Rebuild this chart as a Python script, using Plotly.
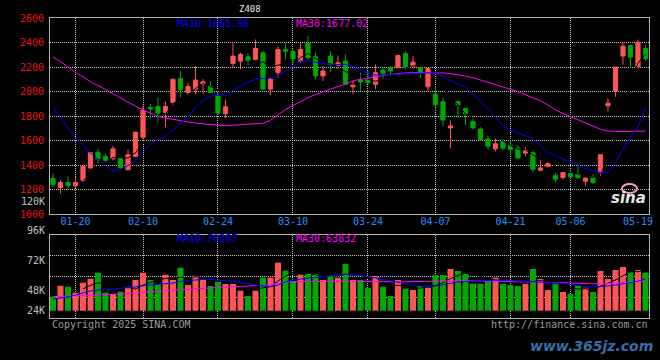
import plotly.graph_objects as go
import pandas as pd

# ---------------- data ----------------
MONTH_DAYS = {
    "2025-01": [15, 16, 17, 20, 21, 22, 23, 24, 27],
    "2025-02": [5, 6, 7, 10, 11, 12, 13, 14, 17, 18, 19, 20, 21, 24, 25, 26, 27, 28],
    "2025-03": [3, 4, 5, 6, 7, 10, 11, 12, 13, 14, 17, 18, 19, 20, 21, 24, 25, 26, 27, 28, 31],
    "2025-04": [1, 2, 3, 7, 8, 9, 10, 11, 14, 15, 16, 17, 18, 21, 22, 23, 24, 25, 28, 29, 30],
    "2025-05": [6, 7, 8, 9, 12, 13, 14, 15, 16, 19, 20],
}
DATES = [f"{m}-{d:02d}" for m, days in MONTH_DAYS.items() for d in days]

OPEN = [1289, 1216, 1257, 1230, 1276, 1376, 1505, 1470, 1451, 1460,
        1362, 1470, 1627, 1870, 1878, 1830, 1911, 2105, 1992, 2019,
        2059, 2040, 1964, 1818, 2229, 2248, 2283, 2262, 2316, 2019,
        2154, 2343, 2327, 2248, 2392, 2283, 2127, 2289, 2213, 2248,
        2038, 2094, 2100, 2059, 2175, 2194, 2194, 2310, 2202, 2194,
        2038, 1978, 1916, 1703, 1919, 1862, 1754, 1694, 1613, 1532,
        1590, 1559, 1538, 1497, 1500, 1357, 1389, 1316, 1297, 1330,
        1324, 1268, 1297, 1338, 1884, 2005, 2289, 2375, 2202, 2351]
HIGH = [1330, 1276, 1306, 1303, 1403, 1505, 1532, 1492, 1554, 1465,
        1527, 1670, 1884, 1897, 1951, 1916, 2100, 2167, 2073, 2208,
        2100, 2086, 1992, 1932, 2392, 2316, 2310, 2424, 2329, 2113,
        2370, 2397, 2338, 2397, 2451, 2316, 2208, 2329, 2294, 2302,
        2086, 2154, 2167, 2221, 2202, 2208, 2302, 2329, 2289, 2194,
        2194, 2046, 1951, 1762, 1919, 1870, 1803, 1708, 1640, 1613,
        1613, 1600, 1559, 1546, 1519, 1438, 1430, 1338, 1343, 1357,
        1411, 1303, 1324, 1484, 1943, 2200, 2402, 2383, 2424, 2383]
LOW = [1222, 1168, 1195, 1214, 1262, 1370, 1411, 1424, 1438, 1370,
       1357, 1465, 1614, 1776, 1749, 1708, 1884, 1951, 1970, 1978,
       1978, 1986, 1810, 1784, 2194, 2181, 2213, 2256, 2019, 1973,
       2113, 2262, 2221, 2235, 2262, 2100, 2086, 2159, 2181, 2059,
       1978, 2005, 2059, 2019, 2094, 2127, 2194, 2181, 2186, 2113,
       2005, 1857, 1716, 1538, 1784, 1727, 1689, 1600, 1527, 1511,
       1519, 1478, 1451, 1473, 1338, 1357, 1381, 1257, 1284, 1284,
       1289, 1230, 1243, 1311, 1835, 1957, 2221, 2194, 2189, 2248]
CLOSE = [1241, 1257, 1233, 1257, 1389, 1500, 1451, 1438, 1532, 1378,
         1484, 1668, 1843, 1857, 1824, 1878, 2100, 2013, 2040, 2094,
         2078, 1992, 1824, 1875, 2289, 2302, 2256, 2351, 2019, 2100,
         2343, 2329, 2267, 2343, 2275, 2127, 2167, 2221, 2235, 2059,
         2051, 2078, 2073, 2154, 2148, 2167, 2294, 2194, 2240, 2154,
         2189, 1892, 1767, 1719, 1892, 1816, 1703, 1608, 1554, 1573,
         1538, 1527, 1457, 1519, 1365, 1376, 1411, 1284, 1338, 1303,
         1297, 1294, 1257, 1484, 1905, 2200, 2370, 2281, 2402, 2267]
MA10 = [1870, 1785, 1700, 1620, 1560, 1500, 1450, 1395, 1350, 1365,
        1395, 1440, 1505, 1570, 1610, 1630, 1685, 1735, 1789, 1870,
        1930, 1965, 1968, 1972, 2010, 2046, 2075, 2100, 2108, 2112,
        2130, 2165, 2205, 2248, 2248, 2238, 2227, 2222, 2221, 2221,
        2205, 2175, 2150, 2133, 2135, 2140, 2142, 2144, 2146, 2148,
        2150, 2154, 2120, 2088, 2063, 2036, 1980, 1920, 1860, 1790,
        1720, 1685, 1660, 1637, 1614, 1555, 1500, 1475, 1450, 1425,
        1400, 1373, 1355, 1338, 1340, 1415, 1530, 1630, 1710, 1865.96]
MA30 = [2282, 2245, 2200, 2155, 2120, 2078, 2050, 2015, 1985, 1950,
        1911, 1880, 1850, 1822, 1797, 1783, 1773, 1762, 1749, 1742,
        1736, 1730, 1722, 1721, 1725, 1728, 1732, 1737, 1741, 1765,
        1810, 1852, 1885, 1920, 1950, 1975, 2000, 2020, 2040, 2060,
        2088, 2100, 2110, 2120, 2130, 2140, 2148, 2152, 2154, 2154,
        2154, 2154, 2152, 2146, 2138, 2125, 2113, 2095, 2072, 2055,
        2035, 2018, 1998, 1975, 1948, 1924, 1890, 1850, 1820, 1795,
        1768, 1745, 1720, 1692, 1677, 1673, 1673, 1674, 1677, 1677.02]
VOLUME = [37.3, 47.7, 46.7, 41.0, 50.5, 54.3, 60.0, 41.0, 39.8, 42.0,
          46.7, 53.1, 60.0, 53.1, 49.3, 58.1, 53.1, 64.7, 48.3, 57.1,
          53.7, 47.4, 51.5, 49.3, 49.3, 42.9, 37.9, 42.9, 55.3, 55.3,
          69.5, 61.9, 52.1, 58.1, 58.8, 58.8, 53.1, 57.8, 55.3, 68.5,
          53.1, 53.1, 45.8, 56.9, 46.7, 37.9, 53.1, 44.8, 43.6, 47.4,
          45.8, 57.8, 57.8, 63.5, 61.6, 58.8, 49.6, 49.6, 52.4, 55.3,
          49.6, 48.3, 47.4, 49.6, 63.5, 54.0, 43.6, 49.6, 41.7, 40.1,
          47.4, 45.8, 41.7, 61.6, 54.0, 62.5, 65.4, 60.6, 62.5, 60.0]
VOL_MA10 = [35.1, 36.0, 37.0, 38.9, 40.8, 42.7, 43.6, 43.9, 44.5, 45.2,
            45.5, 46.4, 47.7, 48.3, 48.6, 49.3, 50.2, 51.8, 52.4, 53.4,
            53.7, 53.7, 52.8, 52.4, 52.1, 51.2, 49.9, 48.3, 47.4, 46.7,
            48.3, 51.2, 53.1, 54.0, 55.0, 55.6, 55.9, 57.1, 57.8, 58.5,
            58.1, 57.3, 56.4, 55.0, 54.0, 52.6, 51.2, 49.8, 48.3, 47.4,
            46.7, 47.4, 48.8, 50.2, 51.2, 51.7, 52.1, 52.6, 52.9, 53.1,
            52.9, 52.6, 52.1, 51.7, 51.5, 51.2, 50.9, 50.5, 49.9, 48.8,
            47.7, 47.1, 46.7, 46.9, 47.4, 48.3, 49.3, 50.5, 52.1, 54.0]
VOL_MA30 = [37.3, 37.5, 37.7, 37.9, 38.1, 38.3, 38.6, 38.9, 39.3, 39.8,
            40.3, 40.7, 41.3, 41.8, 42.4, 42.9, 43.5, 44.0, 44.5, 44.9,
            45.3, 45.8, 46.3, 46.7, 46.8, 47.0, 47.2, 47.4, 47.6, 48.5,
            49.8, 51.0, 51.4, 51.6, 51.8, 52.0, 52.1, 52.0, 51.9, 51.8,
            51.7, 51.6, 51.5, 51.4, 51.3, 51.2, 51.2, 51.4, 51.6, 51.8,
            52.0, 52.2, 52.4, 52.4, 52.4, 52.4, 52.3, 52.2, 52.1, 52.0,
            51.9, 51.8, 51.7, 51.6, 51.5, 51.2, 51.0, 50.8, 50.5, 50.2,
            50.0, 49.7, 49.5, 49.3, 49.8, 50.3, 50.8, 51.2, 51.6, 52.1]

TICK_DATES = ["2025-01-20", "2025-02-10", "2025-02-24", "2025-03-10",
              "2025-03-24", "2025-04-07", "2025-04-21", "2025-05-06"]
TICK_LABELS = ["01-20", "02-10", "02-24", "03-10", "03-24", "04-07", "04-21", "05-06"]
LAST_DATE, LAST_LABEL = "2025-05-19", "05-19"
PRICE_TICKS = [1000, 1200, 1400, 1600, 1800, 2000, 2200, 2400, 2600]
VOL_LABELS = ["120K", "96K", "72K", "48K", "24K"]
MA_TEXT = ["MA10:1865.96", "MA30:1677.02"]
VOL_MA_TEXT = ["MA10:70367", "MA30:63832"]
TITLE = "Z408"

VOL_BASE, VOL_MIN, VOL_MAX = 24.0, 17.1, 96.0

# ---------------- derived ----------------
df = pd.DataFrame({"o": OPEN, "h": HIGH, "l": LOW, "c": CLOSE, "v": VOLUME}, index=DATES)
MA5 = df["c"].rolling(5).mean()
VOL_MA5 = df["v"].rolling(5).mean()

RED, GREEN = "#ff5555", "#00a800"
BLUE, MAGENTA = "#0000ff", "#ff00ff"
GRID, FRAME = "#c8c8c8", "#b4b4b4"
FONT = "DejaVu Sans Mono"

W, H = 660, 360
L, R, T, B = 50, 11, 18, 42
PW, PH = W - L - R, H - T - B


def px(x):
    return (x - L) / PW


def py(y):
    return (H - B - y) / PH


fig = go.Figure()
fig.add_trace(go.Candlestick(
    x=DATES, open=OPEN, high=HIGH, low=LOW, close=CLOSE,
    increasing=dict(line=dict(color=RED, width=1), fillcolor=RED),
    decreasing=dict(line=dict(color=GREEN, width=1), fillcolor=GREEN),
    whiskerwidth=0, xaxis="x", yaxis="y", hoverinfo="skip"))
fig.add_trace(go.Scatter(x=DATES, y=MA5, mode="lines", line=dict(color="#000000", width=1),
                         xaxis="x", yaxis="y"))
fig.add_trace(go.Scatter(x=DATES, y=MA30, mode="lines", line=dict(color=MAGENTA, width=1),
                         xaxis="x", yaxis="y"))
fig.add_trace(go.Scatter(x=DATES, y=MA10, mode="lines", line=dict(color=BLUE, width=1),
                         xaxis="x", yaxis="y"))

vol_colors = [RED if c >= o else GREEN for o, c in zip(OPEN, CLOSE)]
fig.add_trace(go.Bar(x=DATES, y=[v - VOL_BASE for v in VOLUME], base=VOL_BASE,
                     marker=dict(color=vol_colors, line=dict(width=0)), width=0.8,
                     xaxis="x2", yaxis="y2"))
fig.add_trace(go.Scatter(x=DATES, y=VOL_MA5, mode="lines", line=dict(color="#000000", width=1),
                         xaxis="x2", yaxis="y2"))
fig.add_trace(go.Scatter(x=DATES, y=VOL_MA30, mode="lines", line=dict(color=MAGENTA, width=1),
                         xaxis="x2", yaxis="y2"))
fig.add_trace(go.Scatter(x=DATES, y=VOL_MA10, mode="lines", line=dict(color=BLUE, width=1),
                         xaxis="x2", yaxis="y2"))

price_top, price_bot = 18, 214
vol_top, vol_bot = 234.7, 318

axis_common = dict(showgrid=True, gridcolor=GRID, griddash="1px,1px", gridwidth=1,
                   showline=True, linecolor=FRAME, linewidth=1, mirror=True,
                   zeroline=False, ticks="")

fig.update_layout(
    width=W, height=H, margin=dict(l=L, r=R, t=T, b=B),
    paper_bgcolor="#000000", plot_bgcolor="#000000", showlegend=False,
    boxgap=0.2, bargap=0.2, font=dict(family=FONT, size=10),
    xaxis=dict(type="category", domain=[0, 1], anchor="y", range=[-0.4, 79.47],
               tickvals=TICK_DATES, ticktext=TICK_LABELS,
               tickfont=dict(color="#1e90ff", family=FONT, size=10),
               rangeslider=dict(visible=False), ticklabelstandoff=-2, **axis_common),
    xaxis2=dict(type="category", matches="x", domain=[0, 1], anchor="y2",
                tickvals=TICK_DATES, showticklabels=False, **axis_common),
    yaxis=dict(domain=[py(price_bot), py(price_top)], range=[1000, 2600],
               tickvals=PRICE_TICKS, tickfont=dict(color="#ee1111", family=FONT, size=10),
               ticklabelstandoff=3, **axis_common),
    yaxis2=dict(domain=[0, py(vol_top)], range=[VOL_MIN, VOL_MAX],
                tickmode="linear", tick0=VOL_MIN, dtick=(VOL_MAX - VOL_MIN) / 4,
                showticklabels=False, **axis_common),
)

ann = []
ann.append(dict(x=LAST_DATE, xref="x", y=py(221.5), yref="paper", text=LAST_LABEL,
                showarrow=False, font=dict(color="#1e90ff", size=10, family=FONT),
                xanchor="center", yanchor="middle"))
for txt, yy in zip(VOL_LABELS, [201, 230.7, 260.5, 290.7, 310.5]):
    ann.append(dict(x=px(46.5), xref="paper", y=py(yy), yref="paper", text=txt,
                    showarrow=False, xanchor="right", yanchor="middle",
                    font=dict(color="#c0c0c0", size=10, family=FONT)))
for txt, xx, col in zip(MA_TEXT, [175, 294], [BLUE, MAGENTA]):
    ann.append(dict(x=px(xx), xref="paper", y=py(23.5), yref="paper", text=txt,
                    showarrow=False, xanchor="left", yanchor="middle",
                    font=dict(color=col, size=10, family=FONT)))
for txt, xx, col in zip(VOL_MA_TEXT, [175, 294], [BLUE, MAGENTA]):
    ann.append(dict(x=px(xx), xref="paper", y=py(238.5), yref="paper", text=txt,
                    showarrow=False, xanchor="left", yanchor="middle",
                    font=dict(color=col, size=10, family=FONT)))
ann.append(dict(x=px(250), xref="paper", y=py(9), yref="paper", text=TITLE,
                showarrow=False, xanchor="center", yanchor="middle",
                font=dict(color="#e8e8e8", size=9, family=FONT)))
ann.append(dict(x=px(50), xref="paper", y=py(324), yref="paper", text="Copyright 2025 SINA.COM",
                showarrow=False, xanchor="left", yanchor="middle",
                font=dict(color="#9a9a9a", size=10, family=FONT)))
ann.append(dict(x=px(650), xref="paper", y=py(324), yref="paper", text="http://finance.sina.com.cn",
                showarrow=False, xanchor="right", yanchor="middle",
                font=dict(color="#9a9a9a", size=10, family=FONT)))
# sina watermark: small pink "eye" logo above the word
ann.append(dict(x=px(628), xref="paper", y=py(198), yref="paper", text="<b><i>sina</i></b>",
                showarrow=False, xanchor="center", yanchor="middle",
                font=dict(color="#e6e6e6", size=15, family="DejaVu Sans")))
ann.append(dict(x=px(655), xref="paper", y=py(346), yref="paper", text="<b><i>www.365jz.com</i></b>",
                showarrow=False, xanchor="right", yanchor="middle",
                font=dict(color="#3a6ea8", size=14, family="DejaVu Sans")))
fig.update_layout(annotations=ann)
fig.add_shape(type="circle", xref="paper", yref="paper",
              x0=px(622), x1=px(637), y0=py(193), y1=py(184),
              line=dict(color="#f0a0b0", width=2))

fig.write_html("out.html", config={"displayModeBar": False})

# remove the default page margin so the figure sits at the window's top-left corner
with open("out.html", encoding="utf-8") as f:
    html = f.read()
html = html.replace("<head>", "<head><style>html,body{margin:0;padding:0;background:#000;}</style>", 1)
with open("out.html", "w", encoding="utf-8") as f:
    f.write(html)
